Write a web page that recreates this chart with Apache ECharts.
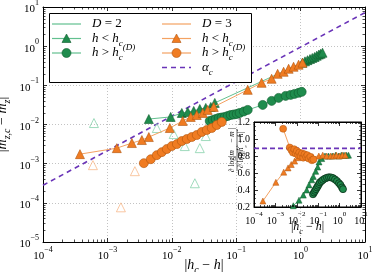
<!DOCTYPE html>
<html><head><meta charset="utf-8">
<script src="https://cdn.jsdelivr.net/npm/echarts@6/dist/echarts.min.js"></script>
<style>html,body{margin:0;padding:0;background:#fff}#c{width:374px;height:272px}</style>
</head><body><div id="c"></div>
<script>
// ---------- data ----------
// main panel: |m_zc - m_z| vs |h_c - h|
const d2Below = [[4.4e-3,1.38e-2],[9.6e-3,1.56e-2],[1.43e-2,1.97e-2],[1.77e-2,2.09e-2],[2.19e-2,2.22e-2],[2.72e-2,2.49e-2],[3.37e-2,2.65e-2],[4.03e-2,2.81e-2],[4.65e-2,3.56e-2],
  [1.07,0.378],[1.17,0.41],[1.28,0.44],[1.40,0.47],[1.52,0.50],[1.65,0.53],[1.78,0.57],[1.92,0.61],[2.05,0.64],[2.19,0.68]];
const d2Above = [[3.88e-2,1.23e-2],[4.33e-2,1.30e-2],[4.81e-2,1.38e-2],[5.36e-2,1.47e-2],[5.96e-2,1.51e-2],[6.64e-2,1.56e-2],[7.38e-2,1.65e-2],[8.22e-2,1.75e-2],[9.14e-2,1.80e-2],[0.102,1.86e-2],[0.113,1.97e-2],[0.131,2.15e-2],[0.151,2.36e-2],
  [0.258,3.16e-2],[0.355,4.01e-2],[0.456,4.78e-2],[0.585,5.38e-2],[0.70,5.70e-2],[0.807,6.05e-2],[0.931,6.43e-2],[1.04,6.81e-2]];
const d3Below = [[3.75e-4,1.75e-3],[1.40e-3,2.49e-3],[2.40e-3,3.36e-3],[3.43e-3,4.01e-3],[4.40e-3,4.78e-3],[9.31e-3,8.13e-3],[1.48e-2,1.23e-2],[1.97e-2,1.56e-2],[2.44e-2,1.75e-2],[3.03e-2,1.97e-2],[3.61e-2,2.36e-2],[4.48e-2,2.81e-2],
  [0.151,7.67e-2],[0.248,0.116],[0.355,0.147],[0.44,0.197],[0.545,0.222],[0.652,0.265],[0.778,0.298],[0.931,0.336],[1.07,0.378]];
const d3Above = [[3.68e-3,1.03e-3],[4.72e-3,1.30e-3],[5.85e-3,1.65e-3],[7.0e-3,1.97e-3],[8.35e-3,2.36e-3],[1.0e-2,2.81e-3],[1.2e-2,3.16e-3],[1.43e-2,3.78e-3],[1.71e-2,4.25e-3],[2.04e-2,4.78e-3],[2.44e-2,5.38e-3],[2.92e-2,6.43e-3],[3.49e-2,7.23e-3],[4.17e-2,8.13e-3],[4.99e-2,9.70e-3],[5.96e-2,1.16e-2]];
const d2Excluded = [[6.18e-4,1.09e-2],[5.85e-3,8.13e-3],[1.07e-2,5.70e-3],[1.59e-2,2.81e-3],[2.72e-2,2.49e-3],[3.37e-2,5.07e-3],[2.28e-2,3.16e-4]];
const d3Excluded = [[5.96e-4,9.16e-4],[2.67e-3,6.43e-4],[1.62e-3,7.68e-5]];
const alphaLine = [[1e-4,2.82e-4],[10,7.2]];
// inset: local slope d log|m_zc - m_z| / d log|h_c - h|
const inD2Below = [[6.86e-3,0.215],[1.27e-2,0.28],[2.01e-2,0.34],[2.90e-2,0.40],[3.72e-2,0.46],[4.97e-2,0.52],[5.90e-2,0.56],[7.64e-2,0.62],[9.48e-2,0.67],[0.109,0.73],[0.146,0.77],[0.208,0.80],
  [0.3,0.80],[0.45,0.80],[0.65,0.81],[0.9,0.80],[1.2,0.81],[1.6,0.81],[2.1,0.81],[2.6,0.81]];
const inD2Above = [[5.71e-2,0.35],[6.37e-2,0.37],[7.09e-2,0.39],[7.89e-2,0.41],[8.79e-2,0.43],[9.79e-2,0.45],[0.109,0.47],[0.121,0.49],[0.143,0.505],[0.168,0.52],[0.208,0.535],[0.258,0.545],[0.320,0.55],[0.396,0.548],[0.492,0.54],[0.610,0.525],[0.756,0.505],[0.937,0.48],[1.10,0.46],[1.29,0.43],[1.44,0.41]];
const inD3Below = [[2.6e-4,0.27],[1.05e-3,0.49],[2.45e-3,0.61],[3.9e-3,0.66],[5.5e-3,0.70],[7.9e-3,0.74],[1.12e-2,0.78],[1.58e-2,0.82],[2.2e-2,0.80],[3.3e-2,0.80],[5.6e-2,0.79],[0.107,0.80],[0.163,0.81],[0.248,0.80],[0.378,0.80],[0.52,0.80],[0.71,0.81],[0.98,0.80],[1.34,0.81],[1.84,0.81]];
const inD3Above = [[2.3e-3,1.12],[4.7e-3,0.90],[5.6e-3,0.87],[6.6e-3,0.84],[7.6e-3,0.88],[8.8e-3,0.83],[1.0e-2,0.86],[1.15e-2,0.81],[1.3e-2,0.84],[1.5e-2,0.80],[1.75e-2,0.83],[2.0e-2,0.78],[2.3e-2,0.82],[2.7e-2,0.79],[3.1e-2,0.81],[3.6e-2,0.77],[4.3e-2,0.79],[5.1e-2,0.75],[6.0e-2,0.76]];
const inAlpha = [[1e-4,0.89],[10,0.89]];
const insetYTicks = [0.2,0.4,0.6,0.8,1.0,1.2];

// log minor tick positions (2..9 x 10^n), axis decoration only
function minorLog(lo, hi){ const out=[]; for(let n=lo;n<hi;n++){ for(let k=2;k<=9;k++) out.push(k*Math.pow(10,n)); } return out; }
const minorX = minorLog(-4, 1);
const minorY = minorLog(-5, 1);

// ---------- styling ----------
const SERIF = 'Liberation Serif';
const G = '#1f8c4d', G_EDGE = '#0e5a2b', G_LINE = '#62c08f', G_HOL = '#88d2ad';
const O = '#f07c22', O_EDGE = '#b0550f', O_LINE = '#f4a262', O_HOL = '#f8b98b';
const P = '#6a34b8';

function pow10(v){ const e = Math.round(Math.log10(v)); return '{b|10}{s|' + (e<0 ? '−'+(-e) : e) + '}'; }
function powRich(fs, ss){ return { b:{fontFamily:SERIF, fontSize:fs, lineHeight:fs+5, color:'#000', verticalAlign:'bottom'}, s:{fontFamily:SERIF, fontSize:ss, lineHeight:ss+1, color:'#000', verticalAlign:'top'} }; }
const mathRich = (fs) => ({
  i:{fontFamily:SERIF, fontStyle:'italic', fontSize:fs, lineHeight:fs+6, color:'#000', fill:'#000', verticalAlign:'middle'},
  n:{fontFamily:SERIF, fontSize:fs, lineHeight:fs+6, color:'#000', fill:'#000', verticalAlign:'middle'},
  sub:{fontFamily:SERIF, fontStyle:'italic', fontSize:Math.round(fs*0.68), lineHeight:Math.round(fs*0.68)+1, color:'#000', fill:'#000', verticalAlign:'bottom'},
  sup:{fontFamily:SERIF, fontStyle:'italic', fontSize:Math.round(fs*0.68), lineHeight:Math.round(fs*0.68)+1, color:'#000', fill:'#000', verticalAlign:'top'}
});

function logAxis(grid, pos, labels, fs, ss, extra){
  return Object.assign({
    type:'log', logBase:10, gridIndex:grid, position:pos, min:1e-4, max:10, splitNumber:5,
    axisLine:{show:true, onZero:false, lineStyle:{color:'#000', width:1}},
    axisTick:{show:true, inside:true, length:4, lineStyle:{color:'#000', width:0.8}},
    minorTick:{show:false},
    splitLine:{show:false},
    nameMoveOverlap:false,
    axisLabel:{show:labels, formatter:pow10, rich:powRich(fs, ss), margin:4}
  }, extra||{});
}
const mainSplit = {show:true, lineStyle:{color:'#b4b4b4', type:[1,2], width:0.8}};

function xMinor(yLo, yHi, len){
  return function(params, api){
    const v = api.value(0);
    const a = api.coord([v, yLo]), b = api.coord([v, yHi]);
    const x = Math.round(a[0]) + 0.5;
    return {type:'group', children:[
      {type:'line', shape:{x1:x, y1:a[1], x2:x, y2:a[1]-len}, style:{stroke:'#000', lineWidth:0.7}},
      {type:'line', shape:{x1:x, y1:b[1], x2:x, y2:b[1]+len}, style:{stroke:'#000', lineWidth:0.7}}
    ]};
  };
}
function yMinor(xLo, xHi, len){
  return function(params, api){
    const v = api.value(1);
    const a = api.coord([xLo, v]), b = api.coord([xHi, v]);
    const y = Math.round(a[1]) + 0.5;
    return {type:'group', children:[
      {type:'line', shape:{x1:a[0], y1:y, x2:a[0]+len, y2:y}, style:{stroke:'#000', lineWidth:0.7}},
      {type:'line', shape:{x1:b[0], y1:y, x2:b[0]-len, y2:y}, style:{stroke:'#000', lineWidth:0.7}}
    ]};
  };
}

const option = {
  animation:false,
  backgroundColor:'#fff',
  grid:[
    {left:43, right:9, top:7, bottom:30, show:false, containLabel:false, outerBoundsMode:'none'},
    {left:254, top:122, width:107, height:85, show:true, backgroundColor:'#fff', borderColor:'#000', borderWidth:1, z:5, containLabel:false, outerBoundsMode:'none'}
  ],
  xAxis:[
    logAxis(0,'bottom',true,11,8,{splitLine:mainSplit, name:'{n||}{i|h}{sub|c}{n| − }{i|h}{n||}', nameLocation:'middle', nameGap:13, nameTextStyle:{rich:mathRich(14)}}),
    logAxis(0,'top',false,11,8),
    logAxis(1,'bottom',true,10,7,{z:6, name:'{n||}{i|h}{sub|c}{n| − }{i|h}{n||}', nameLocation:'middle', nameGap:11, nameTextStyle:{rich:mathRich(12)}}),
    logAxis(1,'top',false,10,7,{z:6})
  ],
  yAxis:[
    Object.assign(logAxis(0,'left',true,11,8,{splitLine:mainSplit, name:'{n||}{i|m}{sub|z,c}{n| − }{i|m}{sub|z}{n||}', nameLocation:'middle', nameGap:31, nameRotate:90, nameTextStyle:{rich:mathRich(14)}}), {min:1e-5, max:10, splitNumber:6}),
    Object.assign(logAxis(0,'right',false,11,8), {min:1e-5, max:10, splitNumber:6}),
    {type:'value', gridIndex:1, position:'left', min:0.2, max:1.2, interval:0.2, z:6,
      axisLine:{show:true, onZero:false, lineStyle:{color:'#000'}},
      axisTick:{show:true, inside:true, length:4, lineStyle:{color:'#000', width:0.8}},
      minorTick:{show:true, splitNumber:4, length:2, lineStyle:{color:'#000', width:0.6}},
      splitLine:{show:false},
      axisLabel:{fontFamily:SERIF, fontSize:10, color:'#000', margin:4, formatter:v=>insetYTicks.find(t=>Math.abs(t-v)<1e-6).toFixed(1)}},
    {type:'value', gridIndex:1, position:'right', min:0.2, max:1.2, interval:0.2, z:6,
      axisLine:{show:true, onZero:false, lineStyle:{color:'#000'}},
      axisTick:{show:true, inside:true, length:4, lineStyle:{color:'#000', width:0.8}},
      minorTick:{show:true, splitNumber:4, length:2, lineStyle:{color:'#000', width:0.6}},
      splitLine:{show:false}, axisLabel:{show:false}}
  ],
  series:[
    {name:'minorXmain', type:'custom', xAxisIndex:0, yAxisIndex:0, data:minorX.map(v=>[v,1e-5]), renderItem:xMinor(1e-5,10,2.5), clip:false, silent:true, z:1},
    {name:'minorYmain', type:'custom', xAxisIndex:0, yAxisIndex:0, data:minorY.map(v=>[1e-4,v]), renderItem:yMinor(1e-4,10,2.5), clip:false, silent:true, z:1},
    {name:'minorXinset', type:'custom', xAxisIndex:2, yAxisIndex:2, data:minorX.map(v=>[v,0.2]), renderItem:xMinor(0.2,1.2,2), clip:false, silent:true, z:9},
    {name:'alpha', type:'line', data:alphaLine, xAxisIndex:0, yAxisIndex:0, symbol:'none', lineStyle:{color:P, width:1.6, type:[5,4]}, z:2, silent:true},
    {name:'d2hol', type:'scatter', data:d2Excluded, xAxisIndex:0, yAxisIndex:0, symbol:'triangle', symbolSize:9, itemStyle:{color:'rgba(255,255,255,0)', borderColor:G_HOL, borderWidth:1}, z:2},
    {name:'d3hol', type:'scatter', data:d3Excluded, xAxisIndex:0, yAxisIndex:0, symbol:'triangle', symbolSize:9, itemStyle:{color:'rgba(255,255,255,0)', borderColor:O_HOL, borderWidth:1}, z:2},
    {name:'d2below', type:'line', data:d2Below, xAxisIndex:0, yAxisIndex:0, symbol:'triangle', symbolSize:9, showSymbol:true, lineStyle:{color:G_LINE, width:1}, itemStyle:{color:G, borderColor:G_EDGE, borderWidth:0.6}, z:3},
    {name:'d2above', type:'line', data:d2Above, xAxisIndex:0, yAxisIndex:0, symbol:'circle', symbolSize:9, showSymbol:true, lineStyle:{color:G_LINE, width:1}, itemStyle:{color:G, borderColor:G_EDGE, borderWidth:0.6}, z:3},
    {name:'d3below', type:'line', data:d3Below, xAxisIndex:0, yAxisIndex:0, symbol:'triangle', symbolSize:9, showSymbol:true, lineStyle:{color:O_LINE, width:1}, itemStyle:{color:O, borderColor:O_EDGE, borderWidth:0.6}, z:4},
    {name:'d3above', type:'line', data:d3Above, xAxisIndex:0, yAxisIndex:0, symbol:'circle', symbolSize:9, showSymbol:true, lineStyle:{color:O_LINE, width:1}, itemStyle:{color:O, borderColor:O_EDGE, borderWidth:0.6}, z:4},
    // inset
    {name:'inAlpha', type:'line', data:inAlpha, xAxisIndex:2, yAxisIndex:2, symbol:'none', lineStyle:{color:P, width:1.6, type:[5,3]}, z:7, silent:true},
    {name:'inD2below', type:'line', data:inD2Below, xAxisIndex:2, yAxisIndex:2, symbol:'triangle', symbolSize:6, showSymbol:true, lineStyle:{color:G_LINE, width:1}, itemStyle:{color:G, borderColor:G_EDGE, borderWidth:0.5}, z:7},
    {name:'inD2above', type:'line', data:inD2Above, xAxisIndex:2, yAxisIndex:2, symbol:'circle', symbolSize:7, showSymbol:true, lineStyle:{color:G_LINE, width:1}, itemStyle:{color:G, borderColor:'#0a2e18', borderWidth:0.8}, z:7},
    {name:'inD3below', type:'line', data:inD3Below, xAxisIndex:2, yAxisIndex:2, symbol:'triangle', symbolSize:6, showSymbol:true, lineStyle:{color:O_LINE, width:1}, itemStyle:{color:O, borderColor:O_EDGE, borderWidth:0.5}, z:8},
    {name:'inD3above', type:'line', data:inD3Above, xAxisIndex:2, yAxisIndex:2, symbol:'circle', symbolSize:7, showSymbol:true, lineStyle:{color:O_LINE, width:1}, itemStyle:{color:O, borderColor:O_EDGE, borderWidth:0.5}, z:8}
  ],
  graphic: []
};

// ---------- legend (drawn as graphic elements) ----------
const L = [];
L.push({type:'rect', shape:{x:49.5, y:13.5, width:202, height:69}, style:{fill:'#fff', stroke:'#000', lineWidth:1}, z:50});
function legRow(x0, y, lineColor, dash, marker, fill, edge, label){
  L.push({type:'line', shape:{x1:x0, y1:y, x2:x0+29, y2:y}, style:{stroke:lineColor, lineWidth: dash?1.6:1.2, lineDash: dash||null}, z:51});
  const cx = x0+14.5;
  if (marker==='tri') L.push({type:'polygon', shape:{points:[[cx,y-4.5],[cx+4.5,y+4],[cx-4.5,y+4]]}, style:{fill:fill, stroke:edge, lineWidth:0.6}, z:52});
  if (marker==='cir') L.push({type:'circle', shape:{cx:cx, cy:y, r:4.5}, style:{fill:fill, stroke:edge, lineWidth:0.6}, z:52});
  L.push({type:'text', x:x0+40, y:y, style:{text:label, rich:mathRich(13), verticalAlign:'middle', align:'left'}, z:52});
}
const rows = [24, 38.5, 53, 67.5];
legRow(52, rows[0], G_LINE, null, null, null, null, '{i|D}{n| = 2}');
legRow(52, rows[1], G_LINE, null, 'tri', G, G_EDGE, '{i|h}{n| < }{i|h}{sub|c}');
legRow(52, rows[2], G_LINE, null, 'cir', G, G_EDGE, '{i|h}{n| > }{i|h}{sub|c}{sup|(D)}');
legRow(162, rows[0], O_LINE, null, null, null, null, '{i|D}{n| = 3}');
legRow(162, rows[1], O_LINE, null, 'tri', O, O_EDGE, '{i|h}{n| < }{i|h}{sub|c}');
legRow(162, rows[2], O_LINE, null, 'cir', O, O_EDGE, '{i|h}{n| > }{i|h}{sub|c}{sup|(D)}');
legRow(162, rows[3], P, [5,4], null, null, null, '{i|α}{sub|c}');

// inset y label (fraction, rotated)
L.push({type:'group', x:237, y:150, rotation:Math.PI/2, z:60, children:[
  {type:'text', x:0, y:-4.5, style:{text:'{n|∂ log|}{i|m}{sub|z,c}{n| − }{i|m}{sub|z}{n||}', rich:mathRich(7.5), align:'center', verticalAlign:'middle'}},
  {type:'line', shape:{x1:-21, y1:0, x2:21, y2:0}, style:{stroke:'#000', lineWidth:0.6}},
  {type:'text', x:0, y:4.5, style:{text:'{n|∂ log|}{i|h}{sub|c}{n| − }{i|h}{n||}', rich:mathRich(7.5), align:'center', verticalAlign:'middle'}}
]});
option.graphic = L;

const chart = echarts.init(document.getElementById('c'), null, {renderer:'canvas', width:374, height:272});
chart.setOption(option);
</script></body></html>
